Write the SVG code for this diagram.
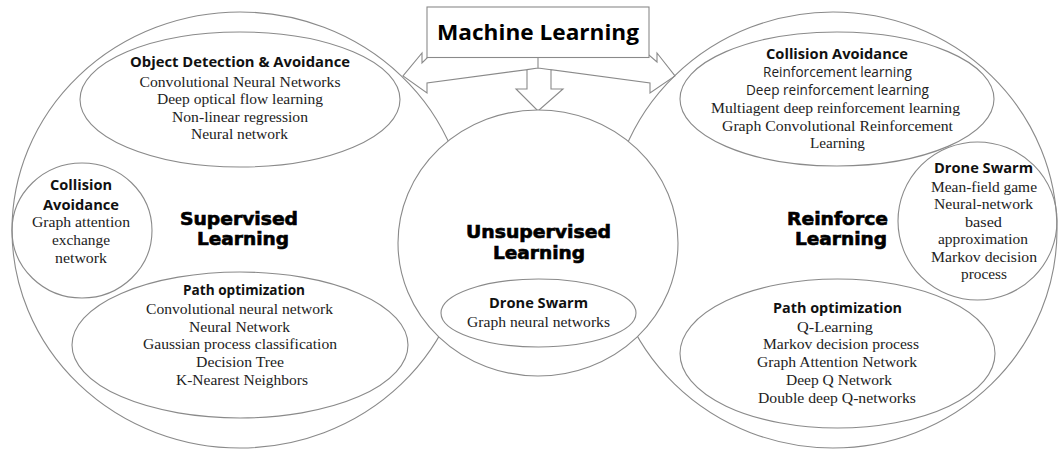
<svg xmlns="http://www.w3.org/2000/svg" width="1058" height="449" viewBox="0 0 1058 449">
<style>
.shape{fill:#fff;stroke:#8a8a8a;stroke-width:1.1}
.sub{fill:none;stroke:#8a8a8a;stroke-width:1.1}
.arrow{fill:none;stroke:#8a8a8a;stroke-width:1.1;stroke-linejoin:miter}
.title{font-family:'Open Sans','Liberation Sans',sans-serif;font-weight:700;font-size:14px;fill:#111;text-anchor:middle}
.sans{font-family:'Open Sans','Liberation Sans',sans-serif;font-size:14px;fill:#222;text-anchor:middle}
.serif{font-family:'Liberation Serif','Times New Roman',serif;font-size:15.5px;fill:#222;text-anchor:middle}
.heavy{font-family:'DejaVu Sans','Liberation Sans',sans-serif;font-weight:700;font-size:17px;fill:#000;stroke:#000;stroke-width:0.6;text-anchor:middle}
.main{font-family:'Open Sans','Liberation Sans',sans-serif;font-weight:700;font-size:21px;fill:#000;text-anchor:middle}
</style>
<rect width="1058" height="449" fill="#fff"/>
<g id="supervised">
<ellipse class="shape" cx="240" cy="230" rx="228" ry="218"/>
</g>
<g id="reinforce">
<ellipse class="shape" cx="833" cy="230" rx="224" ry="218"/>
</g>
<g id="connectors">
<polygon class="arrow" points="430,55 649,55 657,62 657,53 675,76 650,93 650,83 551,69.7 551,89 563,89 538,111 516,89 527,89 527,69.6 427,83 427,93 403,76 422,53 422,63"/>
<path class="arrow" d="M527,69.6 L538,68 L551,69.7 M538,57 L538,68"/>
</g>
<g id="unsupervised">
<ellipse class="shape" cx="538" cy="243" rx="140" ry="133"/>
<text class="heavy" x="538.5" y="238" textLength="145" lengthAdjust="spacingAndGlyphs">Unsupervised</text>
<text class="heavy" x="539" y="259" textLength="92" lengthAdjust="spacingAndGlyphs">Learning</text>
</g>
<g id="machine-learning">
<rect class="shape" x="427" y="7" width="222" height="50.5"/>
<text class="main" x="538" y="40" textLength="202" lengthAdjust="spacingAndGlyphs">Machine Learning</text>
</g>
<g id="sup-label">
<text class="heavy" x="239" y="225" textLength="118" lengthAdjust="spacingAndGlyphs">Supervised</text>
<text class="heavy" x="243" y="245" textLength="92" lengthAdjust="spacingAndGlyphs">Learning</text>
</g>
<g id="sup-object">
<ellipse class="sub" cx="240" cy="99.5" rx="160" ry="67.5"/>
<text class="title" x="240" y="67" textLength="220" lengthAdjust="spacingAndGlyphs">Object Detection &amp; Avoidance</text>
<text class="serif" x="240" y="87" textLength="201" lengthAdjust="spacingAndGlyphs">Convolutional Neural Networks</text>
<text class="serif" x="240" y="104" textLength="166" lengthAdjust="spacingAndGlyphs">Deep optical flow learning</text>
<text class="serif" x="240" y="122" textLength="136" lengthAdjust="spacingAndGlyphs">Non-linear regression</text>
<text class="serif" x="239.5" y="139" textLength="97" lengthAdjust="spacingAndGlyphs">Neural network</text>
</g>
<g id="sup-collision">
<ellipse class="sub" cx="82" cy="230.5" rx="70" ry="67.5"/>
<text class="title" x="81" y="190" textLength="62" lengthAdjust="spacingAndGlyphs">Collision</text>
<text class="title" x="81" y="210" textLength="76" lengthAdjust="spacingAndGlyphs">Avoidance</text>
<text class="serif" x="81" y="227" textLength="98" lengthAdjust="spacingAndGlyphs">Graph attention</text>
<text class="serif" x="81" y="245" textLength="58" lengthAdjust="spacingAndGlyphs">exchange</text>
<text class="serif" x="81" y="263" textLength="52" lengthAdjust="spacingAndGlyphs">network</text>
</g>
<g id="sup-path">
<ellipse class="sub" cx="240" cy="345" rx="168" ry="73"/>
<text class="title" x="244" y="295" textLength="122" lengthAdjust="spacingAndGlyphs">Path optimization</text>
<text class="serif" x="239.5" y="314" textLength="187" lengthAdjust="spacingAndGlyphs">Convolutional neural network</text>
<text class="serif" x="239.5" y="332" textLength="101" lengthAdjust="spacingAndGlyphs">Neural Network</text>
<text class="serif" x="240" y="349" textLength="194" lengthAdjust="spacingAndGlyphs">Gaussian process classification</text>
<text class="serif" x="240" y="367" textLength="88" lengthAdjust="spacingAndGlyphs">Decision Tree</text>
<text class="serif" x="242" y="385" textLength="132" lengthAdjust="spacingAndGlyphs">K-Nearest Neighbors</text>
</g>
<g id="unsup-swarm">
<ellipse class="sub" cx="538.5" cy="313" rx="97.5" ry="34"/>
<text class="title" x="538.5" y="308" textLength="99" lengthAdjust="spacingAndGlyphs">Drone Swarm</text>
<text class="serif" x="538.5" y="327" textLength="143" lengthAdjust="spacingAndGlyphs">Graph neural networks</text>
</g>
<g id="rl-label">
<text class="heavy" x="837.5" y="225" textLength="101" lengthAdjust="spacingAndGlyphs">Reinforce</text>
<text class="heavy" x="841" y="245" textLength="92" lengthAdjust="spacingAndGlyphs">Learning</text>
</g>
<g id="rl-collision">
<ellipse class="sub" cx="837" cy="99" rx="157" ry="67"/>
<text class="title" x="837" y="59" textLength="142" lengthAdjust="spacingAndGlyphs">Collision Avoidance</text>
<text class="sans" x="837.5" y="77" textLength="149" lengthAdjust="spacingAndGlyphs">Reinforcement learning</text>
<text class="sans" x="837.5" y="95" textLength="183" lengthAdjust="spacingAndGlyphs">Deep reinforcement learning</text>
<text class="serif" x="835.5" y="113" textLength="249" lengthAdjust="spacingAndGlyphs">Multiagent deep reinforcement learning</text>
<text class="serif" x="837.5" y="131" textLength="231" lengthAdjust="spacingAndGlyphs">Graph Convolutional Reinforcement</text>
<text class="serif" x="837.5" y="148" textLength="55" lengthAdjust="spacingAndGlyphs">Learning</text>
</g>
<g id="rl-swarm">
<ellipse class="sub" cx="977.5" cy="221" rx="79.5" ry="79"/>
<text class="title" x="983.5" y="173" textLength="99" lengthAdjust="spacingAndGlyphs">Drone Swarm</text>
<text class="serif" x="984" y="192" textLength="106" lengthAdjust="spacingAndGlyphs">Mean-field game</text>
<text class="serif" x="983.5" y="209" textLength="99" lengthAdjust="spacingAndGlyphs">Neural-network</text>
<text class="serif" x="983.5" y="227" textLength="37" lengthAdjust="spacingAndGlyphs">based</text>
<text class="serif" x="983" y="244" textLength="90" lengthAdjust="spacingAndGlyphs">approximation</text>
<text class="serif" x="984" y="262" textLength="106" lengthAdjust="spacingAndGlyphs">Markov decision</text>
<text class="serif" x="984" y="279" textLength="46" lengthAdjust="spacingAndGlyphs">process</text>
</g>
<g id="rl-path">
<ellipse class="sub" cx="837.5" cy="353.5" rx="157.5" ry="74.5"/>
<text class="title" x="837.5" y="313" textLength="129" lengthAdjust="spacingAndGlyphs">Path optimization</text>
<text class="serif" x="835" y="332" textLength="76" lengthAdjust="spacingAndGlyphs">Q-Learning</text>
<text class="serif" x="841" y="349" textLength="156" lengthAdjust="spacingAndGlyphs">Markov decision process</text>
<text class="serif" x="837" y="367" textLength="160" lengthAdjust="spacingAndGlyphs">Graph Attention Network</text>
<text class="serif" x="839" y="385" textLength="106" lengthAdjust="spacingAndGlyphs">Deep Q Network</text>
<text class="serif" x="837" y="403" textLength="158" lengthAdjust="spacingAndGlyphs">Double deep Q-networks</text>
</g>
</svg>
